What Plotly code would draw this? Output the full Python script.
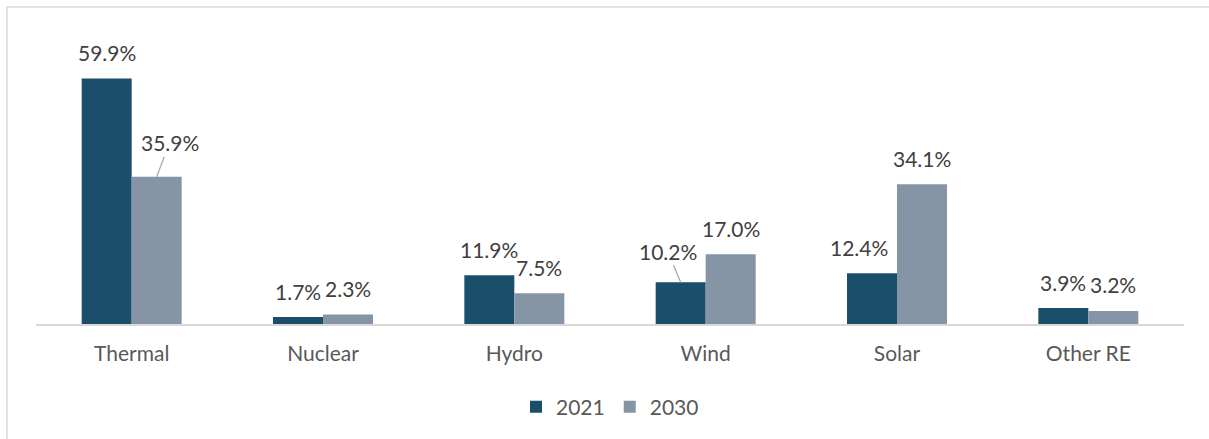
import plotly.graph_objects as go

categories = ["Thermal", "Nuclear", "Hydro", "Wind", "Solar", "Other RE"]
series_names = ["2021", "2030"]
values_2021 = [59.9, 1.7, 11.9, 10.2, 12.4, 3.9]
values_2030 = [35.9, 2.3, 7.5, 17.0, 34.1, 3.2]
colors = ["#1B4E6B", "#8695A6"]

W, H = 1209, 439
ml, mr, mt, mb = 36, 25, 37, 115
plot_w = W - ml - mr
plot_h = H - mt - mb
ymax = 70

bar_px = 50
cat_px = plot_w / len(categories)
bargap = 1 - 2 * bar_px / cat_px
half = (bar_px / cat_px) / 2

FONT = "Lato, 'Open Sans', sans-serif"

fig = go.Figure()
for name, vals, col in zip(series_names, [values_2021, values_2030], colors):
    fig.add_trace(go.Bar(
        x=list(range(len(categories))), y=vals, name=name,
        marker=dict(color=col, line=dict(width=0)),
    ))

label_font = dict(family=FONT, size=21, color="#404040")
annotations = []
# label adjustments: (series index, category index) -> (dx, dy, leader)
special = {
    (1, 0): (13, -34, True),
    (0, 3): (-13, -31, True),
    (0, 4): (-13, -26, False),
}
for s, vals in enumerate([values_2021, values_2030]):
    off = -half if s == 0 else half
    for i, v in enumerate(vals):
        xpos = i + off
        dx, dy, leader = special.get((s, i), (0, -26, False))
        if leader:
            annotations.append(dict(
                x=xpos, y=v, xref="x", yref="y", text=f"{v:.1f}%",
                showarrow=True, arrowhead=0, arrowwidth=1.2, arrowcolor="#A6A6A6",
                ax=dx, ay=dy, standoff=0, font=label_font,
            ))
        else:
            annotations.append(dict(
                x=xpos, y=v, xref="x", yref="y", text=f"{v:.1f}%",
                showarrow=False, xshift=dx, yshift=-dy, yanchor="middle",
                font=label_font,
            ))

# outer border (light gray frame starting at 7px)
px0 = (7 - ml) / plot_w
py0 = (H - mb - 7) / plot_h
shapes = [
    dict(type="line", xref="paper", yref="paper", x0=px0, x1=px0, y0=py0, y1=-2,
         line=dict(color="#D9D9D9", width=1.5)),
    dict(type="line", xref="paper", yref="paper", x0=px0, x1=2, y0=py0, y1=py0,
         line=dict(color="#D9D9D9", width=1.5)),
]

fig.update_layout(
    width=W, height=H,
    margin=dict(l=ml, r=mr, t=mt, b=mb),
    paper_bgcolor="white", plot_bgcolor="white",
    barmode="group", bargap=bargap, bargroupgap=0,
    showlegend=True,
    legend=dict(orientation="h", x=0.5, xanchor="center", y=(324 - 407) / plot_h,
                yanchor="middle", font=dict(family=FONT, size=21, color="#595959"),
                itemsizing="constant", tracegroupgap=0),
    annotations=annotations,
    shapes=shapes,
)
fig.update_xaxes(
    tickmode="array", tickvals=list(range(len(categories))), ticktext=categories,
    range=[-0.5, len(categories) - 0.5],
    showline=True, linecolor="#D9D9D9", linewidth=2, showgrid=False, zeroline=False,
    ticks="", ticklabelstandoff=10,
    tickfont=dict(family=FONT, size=21, color="#595959"),
)
fig.update_yaxes(range=[0, ymax], visible=False, showgrid=False, zeroline=False)

fig.write_html("out.html")
